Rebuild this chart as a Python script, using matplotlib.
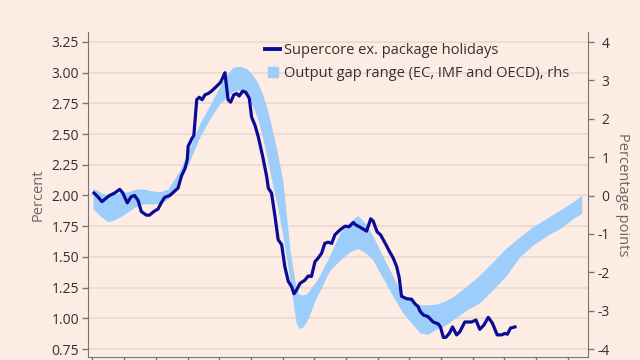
import matplotlib
matplotlib.use("Agg")
import matplotlib.pyplot as plt
from matplotlib.lines import Line2D

plt.rcParams['font.family'] = ['Open Sans', 'DejaVu Sans']

# supercore ex. package holidays (percent, left axis), x in years from first tick
line_x = [0.05, 0.17, 0.30, 0.44, 0.54, 0.70, 0.86, 0.96, 1.10, 1.22,
          1.33, 1.44, 1.54, 1.70, 1.80, 1.94, 2.07, 2.17, 2.28, 2.44,
          2.57, 2.70, 2.81, 2.92, 2.99, 3.02, 3.13, 3.20, 3.29, 3.37,
          3.46, 3.55, 3.65, 3.76, 3.92, 4.04, 4.13, 4.18, 4.23, 4.28,
          4.36, 4.46, 4.55, 4.63, 4.74, 4.84, 4.95, 5.02, 5.13, 5.23,
          5.37, 5.50, 5.55, 5.65, 5.76, 5.86, 5.97, 6.07, 6.18, 6.28,
          6.36, 6.44, 6.55, 6.70, 6.81, 6.91, 7.02, 7.12, 7.23, 7.33,
          7.44, 7.55, 7.65, 7.81, 7.97, 8.10, 8.23, 8.31, 8.42, 8.52,
          8.65, 8.78, 8.86, 8.98, 9.09, 9.26, 9.38, 9.49, 9.60, 9.68,
          9.75, 9.91, 10.07, 10.17, 10.28, 10.33, 10.44, 10.59, 10.75, 10.91,
          10.98, 11.07, 11.15, 11.26, 11.36, 11.49, 11.59, 11.75, 11.85, 11.96,
          12.10, 12.22, 12.35, 12.49, 12.62, 12.77, 12.91, 13.01, 13.09, 13.19,
          13.33]
line_y = [2.02, 1.99, 1.95, 1.98, 2.00, 2.02, 2.05, 2.02, 1.94, 1.99,
          2.00, 1.96, 1.87, 1.84, 1.84, 1.87, 1.89, 1.94, 1.985, 2.00,
          2.03, 2.06, 2.16, 2.22, 2.29, 2.40, 2.46, 2.49, 2.78, 2.80,
          2.78, 2.82, 2.83, 2.85, 2.89, 2.92, 2.97, 3.00, 2.89, 2.78,
          2.76, 2.82, 2.83, 2.81, 2.85, 2.84, 2.79, 2.64, 2.57, 2.48,
          2.32, 2.15, 2.06, 2.02, 1.83, 1.64, 1.60, 1.42, 1.30, 1.26,
          1.20, 1.23, 1.285, 1.31, 1.345, 1.34, 1.46, 1.49, 1.53, 1.61,
          1.62, 1.61, 1.68, 1.72, 1.75, 1.746, 1.78, 1.76, 1.746, 1.73,
          1.71, 1.81, 1.79, 1.705, 1.68, 1.60, 1.54, 1.49, 1.42, 1.33,
          1.18, 1.16, 1.155, 1.12, 1.094, 1.06, 1.027, 1.013, 0.97, 0.954,
          0.93, 0.845, 0.845, 0.877, 0.93, 0.865, 0.89, 0.97, 0.97, 0.97,
          0.986, 0.91, 0.945, 1.008, 0.96, 0.865, 0.865, 0.877, 0.87, 0.92,
          0.93]

# output gap range (percentage points, right axis)
band_x = [0.02, 0.27, 0.49, 0.68, 0.87, 1.12, 1.37, 1.62, 1.88, 2.13,
          2.38, 2.60, 2.76, 3.08, 3.39, 3.71, 4.02, 4.24, 4.43, 4.65,
          4.87, 5.06, 5.22, 5.38, 5.54, 5.69, 5.85, 6.01, 6.17, 6.23,
          6.33, 6.42, 6.50, 6.58, 6.65, 6.78, 6.91, 7.07, 7.23, 7.39,
          7.49, 7.81, 8.12, 8.37, 8.63, 8.85, 9.16, 9.48, 9.79, 10.10,
          10.33, 10.58, 10.83, 11.09, 11.37, 11.78, 12.22, 12.63, 13.04, 13.49,
          13.90, 14.34, 14.75, 15.16, 15.44]
band_hi = [0.20, 0.07, 0.01, 0.04, 0.07, 0.10, 0.17, 0.17, 0.12, 0.10,
           0.17, 0.45, 0.66, 1.27, 1.88, 2.36, 2.84, 3.14, 3.34, 3.37,
           3.31, 3.13, 2.93, 2.61, 2.18, 1.65, 1.06, 0.35, -0.90, -1.42,
           -1.94, -2.38, -2.56, -2.58, -2.59, -2.54, -2.40, -2.22, -1.98, -1.72,
           -1.55, -0.98, -0.69, -0.52, -0.74, -1.06, -1.58, -2.10, -2.59, -2.78,
           -2.84, -2.85, -2.83, -2.76, -2.64, -2.38, -2.07, -1.73, -1.38, -1.07,
           -0.81, -0.59, -0.38, -0.16, 0.01]
band_lo = [-0.35, -0.55, -0.68, -0.64, -0.56, -0.42, -0.29, -0.21, -0.22, -0.20,
           -0.09, 0.17, 0.35, 0.93, 1.53, 2.01, 2.40, 2.57, 2.71, 2.75,
           2.61, 2.33, 1.99, 1.47, 0.87, 0.25, -0.33, -1.06, -1.87, -2.20,
           -2.78, -3.29, -3.45, -3.45, -3.42, -3.24, -2.98, -2.64, -2.40, -2.10,
           -1.95, -1.68, -1.47, -1.38, -1.50, -1.68, -2.15, -2.62, -3.06, -3.35,
           -3.58, -3.62, -3.49, -3.40, -3.24, -3.00, -2.79, -2.46, -2.10, -1.59,
           -1.29, -1.04, -0.86, -0.60, -0.46]

left_ticks = [0.75, 1.00, 1.25, 1.50, 1.75, 2.00, 2.25, 2.50, 2.75, 3.00, 3.25]
left_labels = ['0.75', '1.00', '1.25', '1.50', '1.75', '2.00', '2.25', '2.50', '2.75', '3.00', '3.25']
right_ticks = [-4, -3, -2, -1, 0, 1, 2, 3, 4]
right_labels = ['-4', '-3', '-2', '-1', '0', '1', '2', '3', '4']

bg = '#fdece3'
navy = '#0b0c96'
sky = '#9dcdfb'
axis_col = '#7a7470'
text_col = '#33302e'

fig = plt.figure(figsize=(6.4, 3.6), dpi=100, facecolor=bg)
ax = fig.add_axes([0.1375, 0.007, 0.7805, 0.904])
ax.set_facecolor(bg)
ax2 = ax.twinx()

# band on the right axis, line drawn above it but in left-axis units
ax2.fill_between(band_x, band_lo, band_hi, color=sky, linewidth=0, zorder=1)
ln, = ax2.plot(line_x, line_y, color=navy, lw=2.3, transform=ax.transData,
               solid_joinstyle='round', zorder=3)

ax.set_xlim(-0.14, 15.62)
ax.set_ylim(0.681, 3.331)
ax2.set_ylim(-4.22, 4.26)

ax.set_xticks(range(0, 16))
ax.set_xticklabels([])
ax.set_yticks(left_ticks, left_labels)
ax2.set_yticks(right_ticks, right_labels, ha='right')

ax.yaxis.grid(True, color='#e6d9d0', lw=1.1)
ax.set_axisbelow(True)

for s in ['top', 'right']:
    ax.spines[s].set_visible(False)
for s in ['top', 'left', 'bottom']:
    ax2.spines[s].set_visible(False)
for s in ['left', 'bottom']:
    ax.spines[s].set_color(axis_col)
ax2.spines['right'].set_color(axis_col)

ax.tick_params(axis='both', colors=axis_col, length=4, width=1, labelcolor=text_col,
               labelsize=10, pad=2.5)
ax2.tick_params(axis='y', colors=axis_col, length=4, width=1, labelcolor=text_col,
                labelsize=10, pad=12)

ax.set_ylabel('Percent', color='#6b6560', fontsize=10.5)
ax.yaxis.set_label_coords(-0.084, 0.5)
ax2.set_ylabel('Percentage points', color='#6b6560', fontsize=10.5,
               rotation=270, va='bottom', rotation_mode='anchor')
ax2.yaxis.set_label_coords(1.055, 0.5)

handles = [Line2D([], [], color=navy, lw=2.8),
           Line2D([], [], color=sky, marker='s', markersize=7, linestyle='none')]
labels = ['Supercore ex. package holidays', 'Output gap range (EC, IMF and OECD), rhs']
ax2.legend(handles, labels, loc='upper left', bbox_to_anchor=(0.355, 0.965),
           frameon=False, fontsize=10.5, handlelength=1.0, handletextpad=0.3,
           borderpad=0, borderaxespad=0, labelspacing=0.55, labelcolor=text_col)

fig.savefig('out.png', dpi=100, facecolor=bg)
